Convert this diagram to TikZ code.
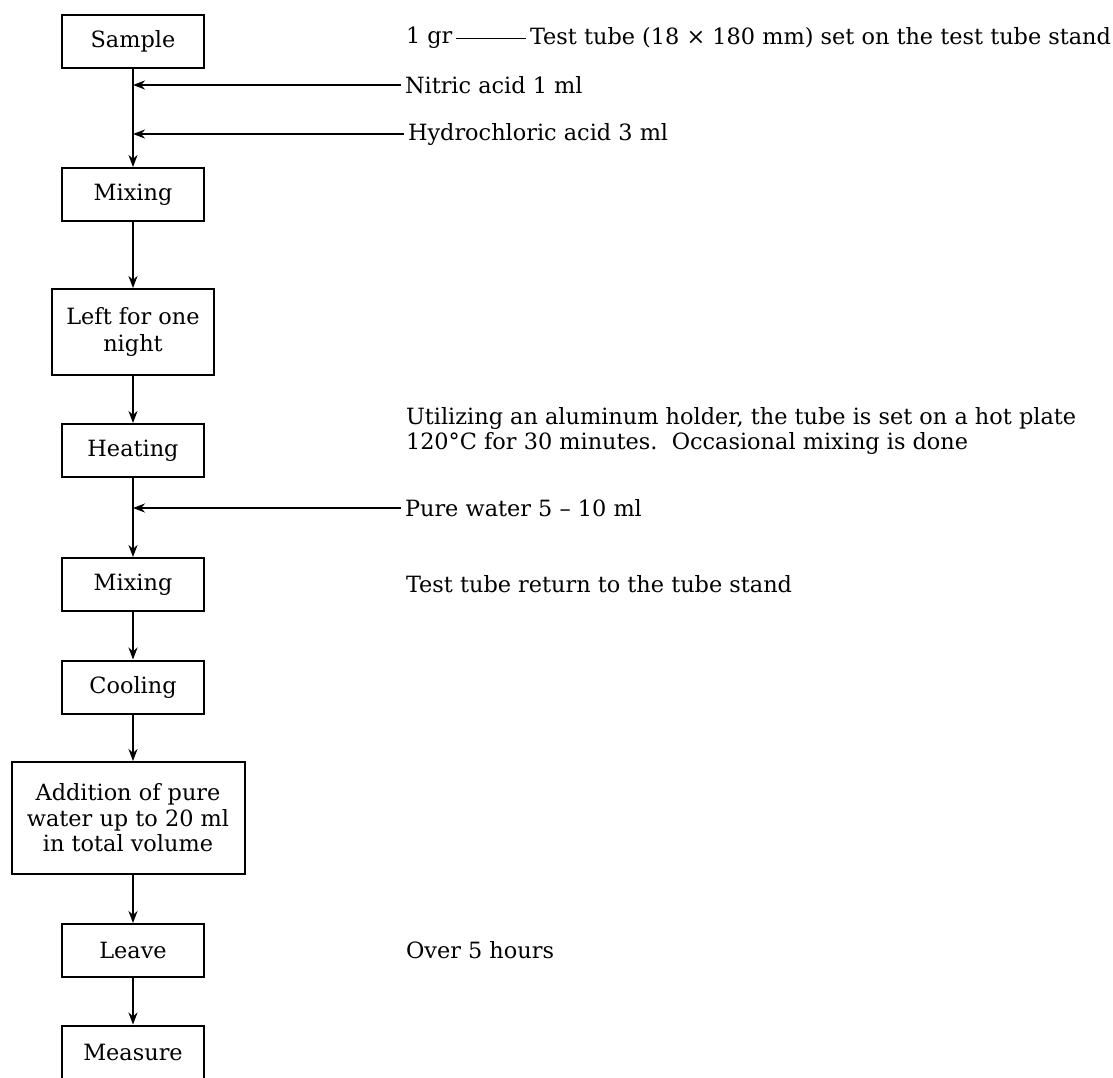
\documentclass[tikz,border=0pt]{standalone}
\usepackage{fontspec}
\setmainfont{DejaVu Serif}
\usetikzlibrary{arrows.meta}
\tikzset{
  stepbox/.style={draw, line width=1pt, minimum width=71pt, minimum height=26.5pt,
    align=center, inner sep=1pt, font=\fontsize{11.2}{13.5}\selectfont},
  note/.style={anchor=west, inner sep=1.5pt, align=left,
    font=\fontsize{11.2}{12.5}\selectfont},
}
\begin{document}
\begin{tikzpicture}[x=0.5pt, y=-0.5pt, >={Stealth[length=6pt,width=4.5pt]}, line width=1pt]
      \useasboundingbox (0,0) rectangle (1113,1077);
      % process column
      \node [stepbox] (sample) at (133,41.5) {Sample};
      \node [stepbox] (mix1) at (133,194.5) {Mixing};
      \node [stepbox, minimum width=81pt, minimum height=43pt] (night) at (133,332) {Left for one\\night};
      \node [stepbox] (heat) at (133,450.5) {Heating};
      \node [stepbox] (mix2) at (133,584.5) {Mixing};
      \node [stepbox] (cool) at (133,687) {Cooling};
      \node [stepbox, minimum width=116.5pt, minimum height=56pt, font=\fontsize{11.2}{12.8}\selectfont] (water) at (128,818) {Addition of pure\\water up to 20 ml\\in total volume};
      \node [stepbox] (leave) at (133,950.5) {Leave};
      \node [stepbox] (measure) at (133,1052) {Measure};
      % notes on the right
      \node [note] (gr) at (402,38) {1 gr};
      \node [note] (tube) at (526,38) {Test tube (18 × 180 mm) set on the test tube stand};
      \node [note] (nitric) at (401,85) {Nitric acid 1 ml};
      \node [note] (hcl) at (404,134) {Hydrochloric acid 3 ml};
      \node [note] (plate) at (402,430.5) {Utilizing an aluminum holder, the tube is set on a hot plate\\120°C for 30 minutes.\ \ Occasional mixing is done};
      \node [note] (pure) at (401,508) {Pure water 5 -- 10 ml};
      \node [note] (back) at (402,584) {Test tube return to the tube stand};
      \node [note] (hours) at (402,950) {Over 5 hours};
      \draw [line width=0.5pt] (gr) -- (tube);
      \draw [->] (sample) -- (mix1);
      \draw [->] (mix1) -- (night);
      \draw [->] (night) -- (heat);
      \draw [->] (heat) -- (mix2);
      \draw [->] (mix2) -- (cool);
      \draw [->] (cool.south) -- (cool.south |- water.north);
      \draw [->] (cool.south |- water.south) -- (leave.north);
      \draw [->] (leave) -- (measure);
      \draw [->] (nitric.west) -- (sample.south |- nitric.west);
      \draw [->] (hcl.west) -- (sample.south |- hcl.west);
      \draw [->] (pure.west) -- (heat.south |- pure.west);
    \end{tikzpicture}
\end{document}
